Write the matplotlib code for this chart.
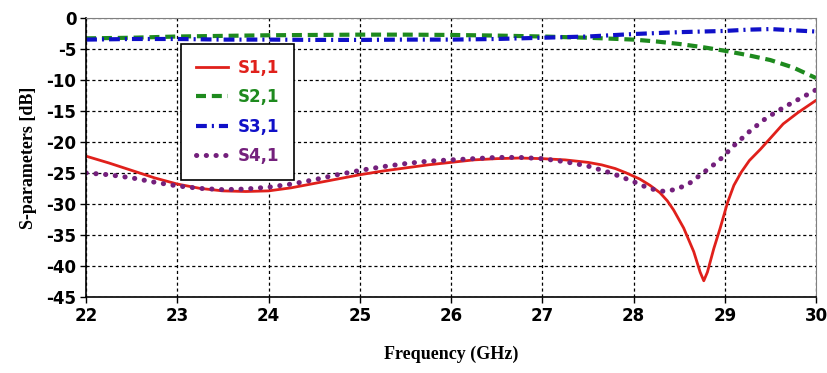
import matplotlib
matplotlib.use("Agg")
import matplotlib.pyplot as plt

# S-parameter curves, values in dB against frequency in GHz
f_s11 = [22, 22.25, 22.5, 22.75, 23, 23.25, 23.5, 23.75, 24, 24.25, 24.5, 24.75,
         25, 25.25, 25.5, 25.75, 26, 26.25, 26.5, 26.75, 27, 27.25, 27.5, 27.65, 27.8,
         27.92, 28.07, 28.18, 28.29, 28.37, 28.44, 28.55, 28.66, 28.73, 28.77, 28.81,
         28.88, 28.95, 29.03, 29.1, 29.18, 29.27, 29.39, 29.5, 29.64, 29.8, 30]
s11 = [-22.3, -23.4, -24.6, -25.8, -26.8, -27.5, -27.9, -28.0, -27.9, -27.4, -26.7, -26.0,
       -25.3, -24.7, -24.2, -23.7, -23.3, -22.9, -22.7, -22.6, -22.7, -22.9, -23.3, -23.7, -24.3,
       -25.0, -26.0, -27.0, -28.2, -29.5, -31.0, -33.9, -37.7, -41.0, -42.4, -41.0,
       -37.2, -33.9, -29.8, -27.0, -24.9, -23.0, -21.2, -19.4, -17.1, -15.3, -13.3]

f_s21 = [22, 22.5, 23, 23.5, 24, 24.5, 25, 25.5, 26, 26.5, 27, 27.5, 28, 28.25,
         28.5, 28.75, 29, 29.25, 29.5, 29.75, 30]
s21 = [-3.3, -3.2, -3.0, -2.9, -2.8, -2.75, -2.7, -2.7, -2.75, -2.85, -3.0, -3.2,
       -3.5, -3.8, -4.2, -4.7, -5.3, -6.0, -6.8, -8.0, -9.7]

f_s31 = [22, 22.5, 23, 23.5, 24, 24.5, 25, 25.5, 26, 26.5, 27, 27.5, 28, 28.5,
         29, 29.25, 29.5, 29.75, 30]
s31 = [-3.5, -3.4, -3.4, -3.5, -3.5, -3.55, -3.55, -3.5, -3.5, -3.4, -3.2, -3.0,
       -2.6, -2.3, -2.1, -1.9, -1.8, -2.0, -2.2]

f_s41 = [22, 22.25, 22.5, 22.75, 23, 23.25, 23.5, 23.75, 24, 24.25, 24.5, 24.75,
         25, 25.25, 25.5, 25.75, 26, 26.25, 26.5, 26.75, 27, 27.25, 27.5, 27.75,
         28, 28.07, 28.2, 28.34, 28.48, 28.62, 28.78, 28.93, 29.0, 29.1, 29.28,
         29.45, 29.65, 29.85, 30]
s41 = [-25.0, -25.3, -25.8, -26.5, -27.1, -27.5, -27.7, -27.6, -27.3, -26.8, -26.1, -25.3,
       -24.6, -24.0, -23.5, -23.1, -22.9, -22.7, -22.5, -22.5, -22.7, -23.2, -23.9, -25.0,
       -26.4, -26.9, -27.6, -28.0, -27.6, -26.6, -24.8, -23.1, -22.1, -20.6, -18.2,
       -16.2, -14.4, -12.8, -11.6]

labels = ["S1,1", "S2,1", "S3,1", "S4,1"]
colors = ["#e0201b", "#1e8a1e", "#1010c8", "#74207c"]

xticks = list(range(22, 31))
yticks = list(range(-45, 1, 5))

fig = plt.figure(figsize=(8.28, 3.73), dpi=100)
ax = fig.add_axes([0.104, 0.204, 0.8815, 0.748])

ax.plot(f_s11, s11, color=colors[0], lw=2, label=labels[0])
ax.plot(f_s21, s21, color=colors[1], lw=3, ls=(0, (2.4, 1.4)), label=labels[1])
ax.plot(f_s31, s31, color=colors[2], lw=3, ls=(0, (2.6, 1.2, 0.5, 1.2)), label=labels[2])
ax.plot(f_s41, s41, color=colors[3], lw=3.6, ls=(0, (0.05, 1.9)),
        dash_capstyle="round", label=labels[3])

ax.set_xlim(22, 30)
ax.set_ylim(-45, 0)
ax.set_xticks(xticks)
ax.set_yticks(yticks)
ax.set_xticklabels([str(t) for t in xticks], fontsize=12, fontweight="bold")
ax.set_yticklabels([str(t) for t in yticks], fontsize=12, fontweight="bold")
ax.tick_params(direction="out", length=4, width=1, pad=3)

ax.grid(True, color="black", ls=(0, (2.5, 2.2)), lw=0.9)
ax.set_axisbelow(True)

for side in ["top", "right"]:
    ax.spines[side].set_color("#808080")
for side in ["left", "bottom"]:
    ax.spines[side].set_color("black")
    ax.spines[side].set_linewidth(1.2)

ax.set_xlabel("Frequency (GHz)", family="Liberation Serif", fontweight="bold",
              fontsize=13, labelpad=15)
ax.set_ylabel("S-parameters [dB]", family="Liberation Serif", fontweight="bold",
              fontsize=13, labelpad=7)

leg = ax.legend(loc="upper left", bbox_to_anchor=(0.13, 0.907), borderaxespad=0,
                frameon=True, fancybox=False, edgecolor="black", framealpha=1,
                prop={"weight": "bold", "size": 12}, handlelength=1.9,
                handletextpad=0.6, labelspacing=0.68, borderpad=0.9)
leg.get_frame().set_linewidth(1.2)
for txt, c in zip(leg.get_texts(), colors):
    txt.set_color(c)

fig.savefig("out.png", dpi=100)
